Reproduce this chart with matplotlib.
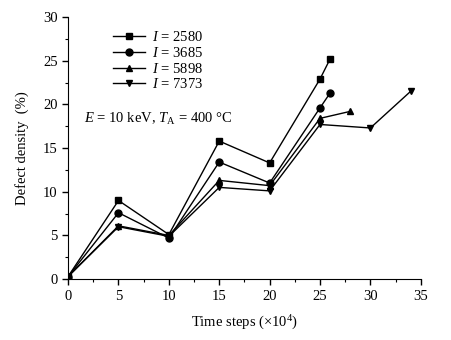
import matplotlib.pyplot as plt
from matplotlib.ticker import MultipleLocator

plt.rcParams['font.family'] = ['Liberation Serif', 'DejaVu Serif']
plt.rcParams['mathtext.fontset'] = 'custom'
plt.rcParams['mathtext.rm'] = 'Liberation Serif'
plt.rcParams['mathtext.it'] = 'Liberation Serif:italic'

# data (time steps in units of 10^4, defect density in %)
x_2580 = [0, 5, 10, 15, 20, 25, 26]
y_2580 = [0.3, 9.0, 5.1, 15.8, 13.3, 22.9, 25.2]

x_3685 = [0, 5, 10, 15, 20, 25, 26]
y_3685 = [0.3, 7.6, 4.7, 13.4, 11.0, 19.6, 21.3]

x_5898 = [0, 5, 10, 15, 20, 25, 28]
y_5898 = [0.3, 6.1, 5.0, 11.3, 10.7, 18.4, 19.2]

x_7373 = [0, 5, 10, 15, 20, 25, 30, 34]
y_7373 = [0.3, 6.0, 4.9, 10.5, 10.1, 17.7, 17.3, 21.5]

series = [
    (x_2580, y_2580, 's', '$I$ = 2580'),
    (x_3685, y_3685, 'o', '$I$ = 3685'),
    (x_5898, y_5898, '^', '$I$ = 5898'),
    (x_7373, y_7373, 'v', '$I$ = 7373'),
]

fig = plt.figure(figsize=(4.51, 3.40), dpi=100)
ax = fig.add_axes([0.151, 0.179, 0.782, 0.771])

for xs, ys, mk, lab in series:
    ax.plot(xs, ys, color='black', linewidth=1.0, marker=mk, markersize=5,
            label=lab)

ax.set_xlim(0, 35)
ax.set_ylim(0, 30)
ax.xaxis.set_major_locator(MultipleLocator(5))
ax.xaxis.set_minor_locator(MultipleLocator(2.5))
ax.yaxis.set_major_locator(MultipleLocator(5))
ax.yaxis.set_minor_locator(MultipleLocator(2.5))
ax.tick_params(which='major', direction='out', length=4, width=1, labelsize=10.5)
ax.tick_params(which='minor', direction='out', length=2, width=0.8)

ax.spines['top'].set_visible(False)
ax.spines['right'].set_visible(False)

ax.set_xlabel('Time steps (×10$^4$)', fontsize=10.5, labelpad=8)
ax.set_ylabel('Defect density  (%)', fontsize=10.5, labelpad=10)

ax.legend(loc='upper left', bbox_to_anchor=(0.09, 1.0), frameon=False,
          fontsize=10.5, handlelength=2.2, handletextpad=0.5, labelspacing=0.12)

ax.text(0.045, 0.595, '$E$ = 10 keV, $T_{\\mathrm{A}}$ = 400 °C',
        transform=ax.transAxes, fontsize=10.5)

fig.savefig('out.png', dpi=100)
